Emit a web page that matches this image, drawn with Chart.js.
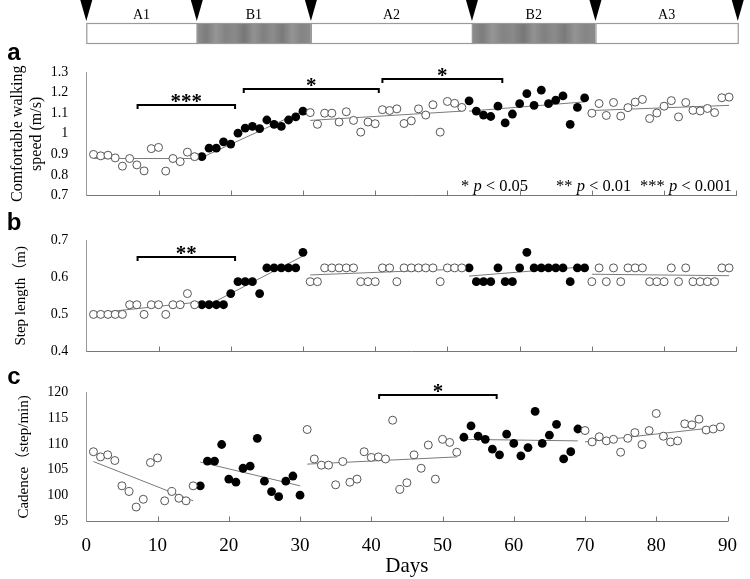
<!DOCTYPE html>
<html><head><meta charset="utf-8">
<script src="https://cdn.jsdelivr.net/npm/chart.js@4.4.1/dist/chart.umd.min.js"></script>
<style>
html,body{margin:0;padding:0;background:#fff;}
#wrap{position:relative;width:750px;height:579px;overflow:hidden;}
canvas{position:absolute;left:0;}
</style></head><body>
<div id="wrap">
<canvas id="ca" width="750" height="222" style="top:0px;width:750px;height:222px"></canvas>
<canvas id="cb" width="750" height="173" style="top:205px;width:750px;height:173px"></canvas>
<canvas id="cc" width="750" height="214" style="top:365px;width:750px;height:214px"></canvas>
</div>
<script>
// ---------- categories (days) ----------
const dayA1=[1,2,3,4,5,6,7,8,9,10,11,12,13,14,15];
const dayB1=[16,17,18,19,20,21,22,23,24,25,26,27,28,29,30];
const dayA2=[31,32,33,34,35,36,37,38,39,40,41,42,43,44,45,46,47,48,49,50,51,52];
const dayB2=[53,54,55,56,57,58,59,60,61,62,63,64,65,66,67,68,69];
const dayA3=[70,71,72,73,74,75,76,77,78,79,80,81,82,83,84,85,86,87,88,89];

// ---------- a: comfortable walking speed (m/s) ----------
const speedA1=[0.900,0.893,0.896,0.883,0.843,0.880,0.849,0.820,0.928,0.934,0.819,0.880,0.865,0.911,0.889];
const speedB1=[0.889,0.930,0.930,0.961,0.950,1.003,1.028,1.036,1.025,1.067,1.046,1.036,1.067,1.082,1.110];
const speedA2=[1.103,1.046,1.100,1.100,1.057,1.107,1.065,1.008,1.057,1.049,1.117,1.113,1.121,1.050,1.063,1.121,1.091,1.141,1.008,1.157,1.148,1.128];
const speedB2=[1.160,1.110,1.091,1.084,1.134,1.053,1.096,1.146,1.195,1.138,1.212,1.146,1.163,1.184,1.046,1.128,1.174];
const speedA3=[1.100,1.147,1.089,1.152,1.086,1.127,1.154,1.167,1.074,1.101,1.134,1.161,1.082,1.152,1.114,1.111,1.123,1.103,1.175,1.178];

// ---------- b: step length (m) ----------
const stepA1=[0.500,0.500,0.500,0.500,0.500,0.526,0.526,0.500,0.526,0.526,0.500,0.526,0.526,0.556,0.526];
const stepB1=[0.526,0.526,0.526,0.526,0.556,0.588,0.588,0.588,0.556,0.625,0.625,0.625,0.625,0.625,0.667];
const stepA2=[0.588,0.588,0.625,0.625,0.625,0.625,0.625,0.588,0.588,0.588,0.625,0.625,0.588,0.625,0.625,0.625,0.625,0.625,0.588,0.625,0.625,0.625];
const stepB2=[0.625,0.588,0.588,0.588,0.625,0.588,0.588,0.625,0.667,0.625,0.625,0.625,0.625,0.625,0.588,0.625,0.625];
const stepA3=[0.588,0.625,0.588,0.625,0.588,0.625,0.625,0.625,0.588,0.588,0.588,0.625,0.588,0.625,0.588,0.588,0.588,0.588,0.625,0.625];

// ---------- c: cadence (step/min) ----------
const cadA1=[108.5,107.5,107.9,106.8,101.9,100.8,97.8,99.3,106.4,107.3,99.0,100.8,99.5,99.0,101.9];
const cadB1=[101.9,106.7,106.7,109.9,103.2,102.6,105.3,105.7,111.1,102.8,100.8,99.8,102.8,103.8,100.1];
const cadA2=[112.8,107.1,105.9,105.9,102.1,106.6,102.6,103.2,108.5,107.4,107.5,107.1,114.6,101.2,102.5,107.9,105.3,109.8,103.2,110.9,110.3,108.4];
const cadB2=[111.3,113.5,111.5,110.9,109.0,107.9,111.9,110.1,107.7,109.3,116.3,110.1,111.7,113.8,107.1,108.5,112.9];
const cadA3=[112.6,110.4,111.4,110.6,110.9,108.4,111.1,112.2,109.9,112.6,115.9,111.5,110.4,110.6,113.9,113.7,114.8,112.7,112.9,113.3];

// ---------- trend lines per phase: [dayStart, valueStart, dayEnd, valueEnd] ----------
const speedTrend=[[1,0.880,15,0.880],[16,0.885,30,1.110],[31,1.065,52,1.110],[53,1.110,69,1.155],[70,1.113,89,1.138]];
const stepTrend=[[1,0.503,15,0.532],[16,0.516,30,0.657],[31,0.606,52,0.622],[53,0.603,69,0.628],[70,0.608,89,0.604]];
const cadTrend=[[1,106.6,15,99.0],[16,106.5,30,101.9],[31,106.1,52,107.5],[53,110.9,69,110.6],[70,110.4,89,113.3]];

// ---------- significance brackets: [dayFrom, dayTo, level, label] ----------
const speedBrackets=[[7.1,20.6,1.138,'***'],[21.8,40.5,1.216,'*'],[41,57.6,1.266,'*']];
const stepBrackets=[[7.1,20.6,0.655,'**']];
const cadBrackets=[[41.1,57.6,119.5,'*']];

// ---------- ticks ----------
const xTicks=[0,10,20,30,40,50,60,70,80,90];
const xTickLabels=['0','10','20','30','40','50','60','70','80','90'];
const speedTicks=[0.7,0.8,0.9,1.0,1.1,1.2,1.3];
const speedTickLabels=['0.7','0.8','0.9','1','1.1','1.2','1.3'];
const stepTicks=[0.4,0.5,0.6,0.7];
const stepTickLabels=['0.4','0.5','0.6','0.7'];
const cadTicks=[95,100,105,110,115,120];
const cadTickLabels=['95','100','105','110','115','120'];

// ---------- phases ----------
const phaseNames=['A1','B1','A2','B2','A3'];
const phaseEdges=[0,15.3,31.1,53.4,70.5,90.2];

const SERIF='"Liberation Serif","Times New Roman","Noto Sans CJK JP",serif';
const pts=(xs,ys)=>xs.map((x,i)=>({x:x,y:ys[i]}));

const inwardTicks={id:'inwardTicks',afterDraw(chart){
  const {ctx,chartArea}=chart; const x=chart.scales.x;
  ctx.save(); ctx.strokeStyle='#777'; ctx.lineWidth=1;
  xTicks.forEach(v=>{ if(v===0) return; const px=Math.round(x.getPixelForValue(v))+0.5;
    ctx.beginPath(); ctx.moveTo(px,chartArea.bottom); ctx.lineTo(px,chartArea.bottom-5); ctx.stroke(); });
  ctx.restore();
}};

function bracketPlugin(list){return {id:'brackets',afterDraw(chart){
  const {ctx}=chart; const x=chart.scales.x, y=chart.scales.y;
  ctx.save(); ctx.strokeStyle='#000'; ctx.lineWidth=2; ctx.fillStyle='#000';
  list.forEach(b=>{
    const x1=x.getPixelForValue(b[0]), x2=x.getPixelForValue(b[1]), py=Math.round(y.getPixelForValue(b[2]));
    ctx.beginPath(); ctx.moveTo(x1,py+4); ctx.lineTo(x1,py); ctx.lineTo(x2,py); ctx.lineTo(x2,py+4); ctx.stroke();
    ctx.font='bold 21px '+SERIF; ctx.textAlign='center'; ctx.textBaseline='alphabetic';
    ctx.fillText(b[3],(x1+x2)/2,py+3);
  });
  ctx.restore();
}};}

function letterPlugin(letter,lx,ly){return {id:'letter',afterDraw(chart){
  const ctx=chart.ctx; ctx.save(); ctx.fillStyle='#000';
  ctx.font='bold 24px "Liberation Sans",Arial,sans-serif'; ctx.textAlign='center'; ctx.textBaseline='middle';
  ctx.fillText(letter,lx,ly); ctx.restore();
}};}

const legendPlugin={id:'pLegend',afterDraw(chart){
  const ctx=chart.ctx; ctx.save(); ctx.fillStyle='#000'; ctx.textBaseline='alphabetic'; ctx.textAlign='left';
  const items=[['* ','0.05',461],['** ','0.01',556],['*** ','0.001',640]];
  items.forEach(it=>{
    let cx=it[2]; const by=191;
    ctx.font='16.5px '+SERIF; ctx.fillText(it[0],cx,by); cx+=ctx.measureText(it[0]).width;
    ctx.font='italic 16.5px '+SERIF; ctx.fillText('p',cx,by); cx+=ctx.measureText('p').width;
    ctx.font='16.5px '+SERIF; ctx.fillText(' < '+it[1],cx,by);
  });
  ctx.restore();
}};

const phasePlugin={id:'phaseBar',afterDraw(chart){
  const ctx=chart.ctx; const x=chart.scales.x;
  const top=23, bot=43;
  ctx.save();
  for(let i=0;i<phaseNames.length;i++){
    const x1=x.getPixelForValue(phaseEdges[i]), x2=x.getPixelForValue(phaseEdges[i+1]);
    if(phaseNames[i][0]==='B'){
      const g=ctx.createLinearGradient(x1,0,x2,0);
      const shades=['#8e8e8e','#7c7c7c','#969696','#838383','#8a8a8a','#777777','#929292','#808080','#8c8c8c','#7a7a7a','#949494','#858585','#8b8b8b'];
      shades.forEach((c,k)=>g.addColorStop(k/(shades.length-1),c));
      ctx.fillStyle=g;
    } else ctx.fillStyle='#fff';
    ctx.fillRect(x1,top,x2-x1,bot-top);
    ctx.strokeStyle='#9a9a9a'; ctx.lineWidth=1.2; ctx.strokeRect(x1+0.5,top+0.5,x2-x1,bot-top);
    ctx.fillStyle='#000'; ctx.font='14px '+SERIF; ctx.textAlign='center'; ctx.textBaseline='middle';
    ctx.fillText(phaseNames[i],(x1+x2)/2,15);
  }
  ctx.fillStyle='#000';
  phaseEdges.forEach(e=>{const px=x.getPixelForValue(e);
    ctx.beginPath(); ctx.moveTo(px-6,0); ctx.lineTo(px+6,0); ctx.lineTo(px,21); ctx.closePath(); ctx.fill();});
  ctx.restore();
}};

function makePanel(id,o){
  const datasets=[
    {type:'scatter',data:o.open,pointStyle:'circle',pointRadius:4,pointBackgroundColor:'#fff',pointBorderColor:'#555',pointBorderWidth:1},
    {type:'scatter',data:o.filled,pointStyle:'circle',pointRadius:4.4,pointBackgroundColor:'#000',pointBorderColor:'#000',pointBorderWidth:0}
  ].concat(o.trends.map(t=>({type:'line',data:[{x:t[0],y:t[1]},{x:t[2],y:t[3]}],borderColor:'#7a7a7a',borderWidth:1,pointRadius:0,fill:false})));
  return new Chart(document.getElementById(id),{
    type:'scatter',
    data:{datasets:datasets},
    options:{
      responsive:false,animation:false,devicePixelRatio:1,
      layout:{padding:{top:o.padTop,left:0,right:13.7,bottom:0}},
      plugins:{legend:{display:false},tooltip:{enabled:false}},
      scales:{
        x:{type:'linear',min:0,max:90,
          afterBuildTicks:s=>{s.ticks=xTicks.map(v=>({value:v}));},
          afterFit:s=>{s.height=o.xAxisH;},
          grid:{display:false,drawTicks:false},
          border:{display:true,color:'#777',width:1},
          ticks:{display:o.showX,padding:13,color:'#000',autoSkip:false,maxRotation:0,
            font:{family:SERIF,size:19},callback:(v,i)=>xTickLabels[i]},
          title:{display:o.showX,text:'Days',color:'#000',font:{family:SERIF,size:21},padding:{top:0,bottom:0}}
        },
        y:{type:'linear',min:o.yMin,max:o.yMax,
          afterBuildTicks:s=>{s.ticks=o.yTicks.map(v=>({value:v}));},
          afterFit:s=>{s.width=86.3;},
          grid:{display:false,drawTicks:false},
          border:{display:true,color:'#999',width:1},
          ticks:{padding:18,color:'#000',autoSkip:false,font:{family:SERIF,size:14},callback:(v,i)=>o.yLabels[i]},
          title:{display:true,text:o.title,color:'#000',font:{family:SERIF,size:o.titleSize,lineHeight:1.15},padding:{top:o.titlePad,bottom:0}}
        }
      }
    },
    plugins:[inwardTicks,bracketPlugin(o.brackets),letterPlugin(o.letter,14,o.letterY)].concat(o.extra||[])
  });
}

makePanel('ca',{
  open:pts(dayA1,speedA1).concat(pts(dayA2,speedA2),pts(dayA3,speedA3)),
  filled:pts(dayB1,speedB1).concat(pts(dayB2,speedB2)),
  trends:speedTrend,yMin:0.7,yMax:1.3,yTicks:speedTicks,yLabels:speedTickLabels,
  title:['Comfortable walking','speed (m/s)'],titleSize:16,titlePad:9,padTop:72,xAxisH:9,showX:false,
  brackets:speedBrackets,letter:'a',letterY:53,extra:[legendPlugin,phasePlugin]
});
makePanel('cb',{
  open:pts(dayA1,stepA1).concat(pts(dayA2,stepA2),pts(dayA3,stepA3)),
  filled:pts(dayB1,stepB1).concat(pts(dayB2,stepB2)),
  trends:stepTrend,yMin:0.4,yMax:0.7,yTicks:stepTicks,yLabels:stepTickLabels,
  title:'Step length（m)',titleSize:15,titlePad:12,padTop:35,xAxisH:10.5,showX:false,
  brackets:stepBrackets,letter:'b',letterY:18
});
makePanel('cc',{
  open:pts(dayA1,cadA1).concat(pts(dayA2,cadA2),pts(dayA3,cadA3)),
  filled:pts(dayB1,cadB1).concat(pts(dayB2,cadB2)),
  trends:cadTrend,yMin:95,yMax:120,yTicks:cadTicks,yLabels:cadTickLabels,
  title:'Cadence（step/min)',titleSize:15,titlePad:15,padTop:27.3,xAxisH:57.5,showX:true,
  brackets:cadBrackets,letter:'c',letterY:12
});
</script>
</body></html>
